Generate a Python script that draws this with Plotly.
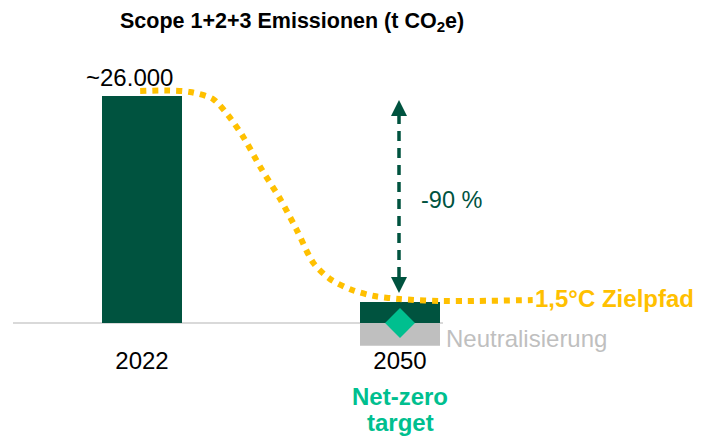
import plotly.graph_objects as go

# ---------------- data ----------------
years = [2022, 2050]
year_labels = ["2022", "2050"]
emissions = [26000, 2400]            # Scope 1+2+3 emissions (t CO2e)
neutral_years = [2050]
neutralisation = [-2600]             # neutralised residual emissions
path_years = [2021.8, 2024.6, 2027.2, 2029.7, 2031.4, 2033.0, 2034.9, 2037.0,
              2038.8, 2040.6, 2042.4, 2044.8, 2047.2, 2050.0, 2054.3, 2064.4]
path_values = [26570, 26630, 26460, 25660, 23710, 21300, 17750, 14200,
               10650, 6870, 5040, 3780, 3090, 2750, 2520, 2630]
reduction_label = "-90 %"
start_label = "~26.000"

# ---------------- layout constants ----------------
PAGE_W, PAGE_H = 707, 437
OFF = 8                              # default page margin around the figure
W, H = PAGE_W - OFF, PAGE_H - OFF
FONT = "Arial, 'Liberation Sans', sans-serif"
DARK = "#00533F"
TEAL = "#00BF8F"
YELLOW = "#FFC000"
GREY = "#BFBFBF"

PX_X0 = 142 - OFF           # figure pixel column of first category
PX_PER_YEAR = 258 / 28
PX_BASE = 323 - OFF         # figure pixel row of zero line
VAL_PER_PX = 26000 / 227

x_range = [years[0] - PX_X0 / PX_PER_YEAR, years[0] + (W - PX_X0) / PX_PER_YEAR]
y_range = [-(H - PX_BASE) * VAL_PER_PX, PX_BASE * VAL_PER_PX]


def px(xp):
    """page pixel column -> paper fraction"""
    return (xp - OFF) / W


def py(yp):
    """page pixel row -> paper fraction"""
    return 1 - (yp - OFF) / H


fig = go.Figure()

fig.add_trace(go.Bar(x=years, y=emissions, width=80 / PX_PER_YEAR,
                     marker=dict(color=DARK, line=dict(width=0)),
                     hoverinfo="skip"))
fig.add_trace(go.Bar(x=neutral_years, y=neutralisation, width=80 / PX_PER_YEAR,
                     marker=dict(color=GREY, line=dict(width=0)),
                     hoverinfo="skip"))
fig.add_trace(go.Scatter(x=path_years, y=path_values, mode="lines",
                         line=dict(color=YELLOW, width=6, dash="dot",
                                   shape="spline", smoothing=0.8),
                         hoverinfo="skip"))
fig.add_trace(go.Scatter(x=neutral_years, y=[0], mode="markers",
                         marker=dict(symbol="diamond", size=23, color=TEAL,
                                     line=dict(width=0)),
                         hoverinfo="skip"))

shapes = []
# zero line
shapes.append(dict(type="line", xref="paper", yref="y", x0=px(13), x1=px(443),
                   y0=0, y1=0, line=dict(color="#D9D9D9", width=2), layer="below"))
# dashed double arrow
ax = 399
shapes.append(dict(type="line", xref="paper", yref="paper", x0=px(ax), x1=px(ax),
                   y0=py(114), y1=py(279), line=dict(color=DARK, width=3.5, dash="10px,7px")))
shapes.append(dict(type="path", xref="paper", yref="paper", fillcolor=DARK, line=dict(width=0),
                   path=f"M {px(ax)},{py(100)} L {px(ax+8)},{py(116)} L {px(ax-8)},{py(116)} Z"))
shapes.append(dict(type="path", xref="paper", yref="paper", fillcolor=DARK, line=dict(width=0),
                   path=f"M {px(ax)},{py(293)} L {px(ax+8)},{py(277)} L {px(ax-8)},{py(277)} Z"))

annotations = [
    dict(text=start_label, x=px(129), y=py(77), font=dict(size=24, color="black")),
    dict(text=reduction_label, x=px(452), y=py(200), font=dict(size=23.5, color=DARK)),
    dict(text="<b>1,5°C Zielpfad</b>", x=px(533), y=py(298), xanchor="left",
         font=dict(size=24, color=YELLOW)),
    dict(text="Neutralisierung", x=px(444), y=py(338), xanchor="left",
         font=dict(size=24, color=GREY)),
    dict(text="<b>Net-zero</b>", x=px(400), y=py(396), font=dict(size=24, color=TEAL)),
    dict(text="<b>target</b>", x=px(400), y=py(422), font=dict(size=24, color=TEAL)),
]
for a in annotations:
    a.update(xref="paper", yref="paper", showarrow=False)
    a.setdefault("xanchor", "center")
    a.setdefault("yanchor", "middle")

fig.update_layout(
    width=W, height=H,
    margin=dict(l=0, r=0, t=0, b=0),
    paper_bgcolor="white", plot_bgcolor="white",
    font=dict(family=FONT, color="black"),
    showlegend=False,
    barmode="relative",
    title=dict(text="<b>Scope 1+2+3 Emissionen (t CO<sub>2</sub>e)</b>",
               x=px(120), xanchor="left", xref="paper",
               y=py(20), yanchor="middle", yref="paper",
               font=dict(size=21.5, color="black", family=FONT)),
    xaxis=dict(range=x_range, tickmode="array", tickvals=years, ticktext=year_labels,
               showgrid=False, zeroline=False, showline=False, ticks="",
               anchor="free", position=py(323), ticklabelstandoff=21,
               tickfont=dict(size=24, color="black"), fixedrange=True),
    yaxis=dict(range=y_range, visible=False, showgrid=False, zeroline=False, fixedrange=True),
    shapes=shapes,
    annotations=annotations,
)

fig.write_html("out.html")
